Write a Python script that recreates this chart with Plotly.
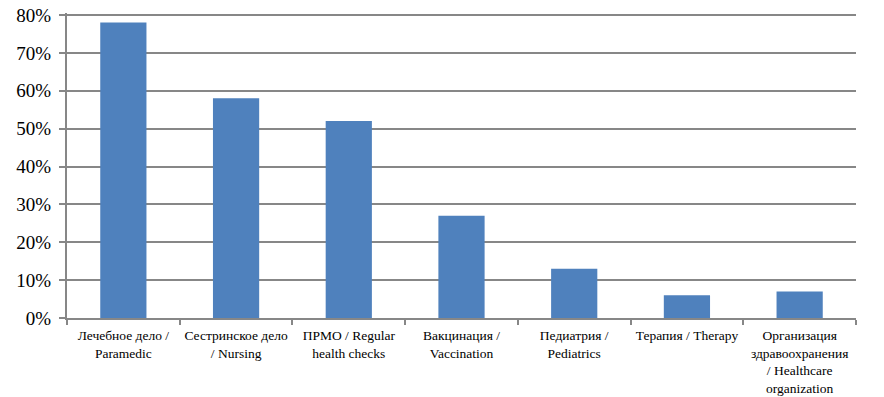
import plotly.graph_objects as go

categories = [
    "Лечебное дело /<br>Paramedic",
    "Сестринское дело<br>/ Nursing",
    "ПРМО / Regular<br>health checks",
    "Вакцинация /<br>Vaccination",
    "Педиатрия /<br>Pediatrics",
    "Терапия / Therapy",
    "Организация<br>здравоохранения<br>/ Healthcare<br>organization",
]
values = [78, 58, 52, 27, 13, 6, 7]
y_ticks = [0, 10, 20, 30, 40, 50, 60, 70, 80]
y_labels = [f"{v}%" for v in y_ticks]

grid = "#878787"
serif = "Liberation Serif, Times New Roman, serif"

fig = go.Figure(
    go.Bar(x=categories, y=values, marker=dict(color="#4f81bd", line=dict(width=0)))
)
fig.update_layout(
    width=868, height=389,
    margin=dict(l=59, r=20, t=5, b=79),
    paper_bgcolor="white", plot_bgcolor="white",
    bargap=0.59,
    showlegend=False,
    font=dict(family=serif, color="black"),
)
fig.update_xaxes(
    automargin=False, tickangle=0,
    showline=True, linecolor=grid, linewidth=2,
    ticks="outside", tickson="boundaries", ticklen=5, tickcolor=grid, tickwidth=2,
    ticklabelstandoff=4, ticklabeloverflow="allow",
    tickfont=dict(family=serif, size=13.5, color="black"), showgrid=False,
)
fig.update_yaxes(
    automargin=False,
    range=[0, 80.53], tickvals=y_ticks, ticktext=y_labels,
    showline=True, linecolor=grid, linewidth=2,
    ticks="outside", ticklen=6, tickcolor=grid, tickwidth=2,
    ticklabelstandoff=4, ticklabeloverflow="allow",
    showgrid=True, gridcolor=grid, gridwidth=2,
    tickfont=dict(family=serif, size=19, color="black"), zeroline=False,
)
fig.write_html("out.html")
